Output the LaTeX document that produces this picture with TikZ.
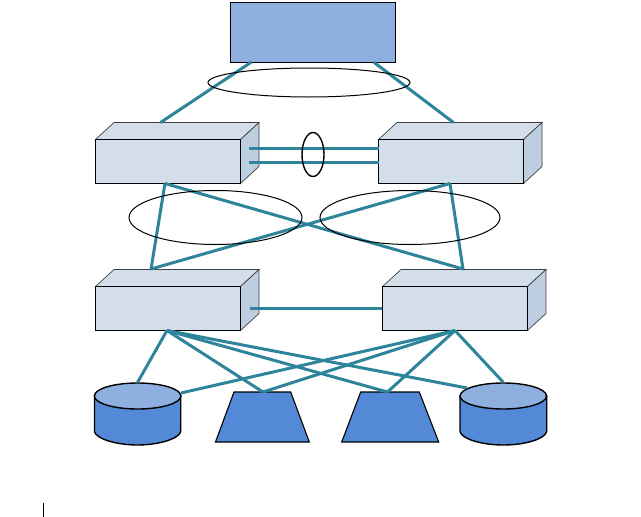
\documentclass[tikz,border=0pt]{standalone}
\usetikzlibrary{shapes.geometric}
\definecolor{linkc}{HTML}{2E849B}
\definecolor{rootc}{HTML}{8EB0E0}
\definecolor{frontc}{HTML}{D4DEEB}
\definecolor{sidec}{HTML}{BCCEE0}
\definecolor{diskc}{HTML}{5389D6}
\tikzset{
 rootbox/.style={draw=black,fill=rootc,line width=1pt,rectangle,inner sep=0pt,minimum width=165pt,minimum height=60pt},
 front/.style={draw=black,fill=frontc,line width=1pt,rectangle,inner sep=0pt,minimum width=145pt,minimum height=44pt},
 topface/.style={draw=black!75,fill=frontc,line width=.7pt},
 sideface/.style={draw=black!75,fill=sidec,line width=.7pt},
 link/.style={draw=linkc,line width=3pt},
 ring/.style={draw=black,line width=1pt},
 thickring/.style={draw=black,line width=1.4pt},
 disktop/.style={draw=black,fill=rootc,line width=1.4pt,ellipse,inner sep=0pt,minimum width=86.5pt,minimum height=26pt},
 diskbody/.style={draw=black,fill=diskc,line width=1.4pt},
 tray/.style={draw=black,fill=diskc,line width=1.1pt},
}
\newcommand{\boxfaces}[4]{%
 \filldraw[topface] (#1,#3) -- (#1+18.5,#3-17) -- (#2+18.5,#3-17) -- (#2,#3) -- cycle;
 \filldraw[sideface] (#2,#3) -- (#2+18.5,#3-17) -- (#2+18.5,#4-17) -- (#2,#4) -- cycle;
}
\begin{document}
\begin{tikzpicture}[x=1pt,y=-1pt]
\useasboundingbox (0,0) rectangle (641,517);
\boxfaces{95.5}{240.5}{139.5}{183.5}
\boxfaces{378.5}{523.5}{139.5}{183.5}
\boxfaces{95.5}{240.5}{286.5}{330.5}
\boxfaces{382.5}{527.5}{286.5}{330.5}
\node[rootbox] (root) at (313,32.5) {};
\node[front] (a) at (168,161.5) {};
\node[front] (b) at (451,161.5) {};
\node[front] (c) at (168,308.5) {};
\node[front] (d) at (455,308.5) {};
\filldraw[diskbody] (94.5,396) -- (94.5,431.5) .. controls (96,439) and (117,445) .. (137.5,445) .. controls (158,445) and (179,439) .. (180.7,431.5) -- (180.7,396) -- cycle;
\filldraw[diskbody] (460,396) -- (460,431.5) .. controls (461.5,439) and (482,445) .. (503.3,445) .. controls (525,445) and (545,439) .. (546.7,431.5) -- (546.7,396) -- cycle;
\node[disktop] (dl) at (137.6,396) {};
\node[disktop] (dr) at (503.3,396) {};
\filldraw[tray] (215.5,442) -- (234,392) -- (290.7,392) -- (309.3,442) -- cycle;
\filldraw[tray] (341.7,442) -- (360.7,392) -- (419.3,392) -- (438.7,442) -- cycle;
\coordinate (t1) at (263,392);
\coordinate (t2) at (387.5,392);
\coordinate (rl) at (251.5,62);
\coordinate (rr) at (373.5,62);
\coordinate (at) at (160.5,122.5);
\coordinate (bt) at (453.5,122.5);
\coordinate (ar1) at (249,148.5);
\coordinate (ar2) at (249,162.5);
\coordinate (bl1) at (378.5,148.5);
\coordinate (bl2) at (378.5,162.5);
\coordinate (as) at (165,183.5);
\coordinate (bs) at (450,183.5);
\coordinate (ct) at (151,269);
\coordinate (dt) at (463,269);
\coordinate (cr) at (250,308.5);
\coordinate (cs) at (167,330.5);
\coordinate (ds) at (455,330.5);
\coordinate (dlr) at (181,393);
\coordinate (drl) at (467,388);
\draw[link] (rl) -- (at);
\draw[link] (rr) -- (bt);
\draw[link] (ar1) -- (bl1);
\draw[link] (ar2) -- (bl2);
\draw[link] (as) -- (ct);
\draw[link] (as) -- (dt);
\draw[link] (bs) -- (ct);
\draw[link] (bs) -- (dt);
\draw[link] (cr) -- (d.west);
\draw[link] (cs) -- (dl.north);
\draw[link] (cs) -- (t1);
\draw[link] (cs) -- (t2);
\draw[link] (cs) -- (drl);
\draw[link] (ds) -- (dlr);
\draw[link] (ds) -- (t1);
\draw[link] (ds) -- (t2);
\draw[link] (ds) -- (dr.north);
\draw[ring] (309,82.5) ellipse (101 and 14.5);
\draw[thickring] (313,154.5) ellipse (11 and 22);
\draw[ring] (215.5,217.5) ellipse (86.5 and 27);
\draw[ring] (410,217.5) ellipse (90 and 27);
\draw[black,line width=.8pt] (43.5,503) -- (43.5,517);
\end{tikzpicture}
\end{document}
